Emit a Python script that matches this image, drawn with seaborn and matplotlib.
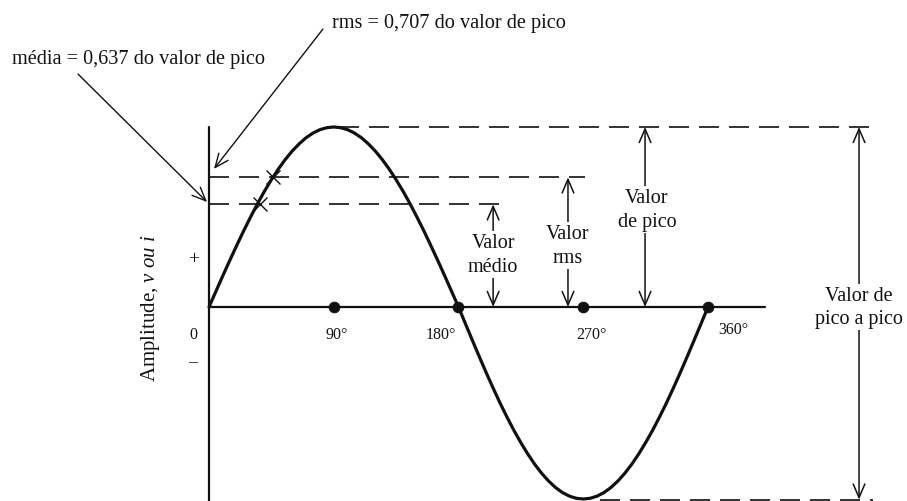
import matplotlib
matplotlib.use("Agg")
import matplotlib.pyplot as plt
import seaborn as sns

# sine wave (degrees, amplitude relative to peak)
angles = list(range(0, 365, 5))
amplitude = [0.000, 0.087, 0.174, 0.259, 0.342, 0.423, 0.500, 0.574, 0.643, 0.707,
             0.766, 0.819, 0.866, 0.906, 0.940, 0.966, 0.985, 0.996, 1.000,
             0.996, 0.985, 0.966, 0.940, 0.906, 0.866, 0.819, 0.766, 0.707,
             0.643, 0.574, 0.500, 0.423, 0.342, 0.259, 0.174, 0.087, 0.000,
             -0.093, -0.185, -0.276, -0.365, -0.451, -0.534, -0.612, -0.686, -0.754,
             -0.817, -0.874, -0.924, -0.967, -1.003, -1.031, -1.051, -1.063, -1.067,
             -1.063, -1.051, -1.031, -1.003, -0.967, -0.924, -0.874, -0.817, -0.754,
             -0.686, -0.612, -0.534, -0.451, -0.365, -0.276, -0.185, -0.093, 0.000]

dot_angles = [90, 180, 270, 360]
dot_labels = ["90°", "180°", "270°", "360°"]
label_angles = [92, 167, 276, 378]

peak_level = 1.00
rms_level = 0.72
mean_level = 0.57
trough_level = -1.07
rms_cross = 46
mean_cross = 37

sns.set_style("white")
plt.rcParams["font.family"] = ["Liberation Serif", "DejaVu Serif"]
plt.rcParams["mathtext.fontset"] = "custom"
plt.rcParams["mathtext.rm"] = "Liberation Serif"
plt.rcParams["mathtext.it"] = "Liberation Serif:italic"

fig = plt.figure(figsize=(9.07, 5.02), dpi=100)
ax = fig.add_axes([0, 0, 1, 1])
ax.set_xlim(-150.8, 503.6)
ax.set_ylim(-1.078, 1.711)
ax.axis("off")

ink = "#111111"

# axes of the diagram
ax.plot([0, 0], [1.0, -1.2], color=ink, lw=1.6, zorder=2)
ax.plot([0, 401], [0, 0], color=ink, lw=1.6, zorder=2)

# the wave
sns.lineplot(x=angles, y=amplitude, ax=ax, color=ink, lw=2.3, sort=False,
             estimator=None, zorder=3, solid_joinstyle="round")
sns.scatterplot(x=dot_angles, y=[0] * len(dot_angles), ax=ax, color=ink, s=60,
                edgecolor=ink, zorder=4)

# dashed reference levels
dash = dict(color=ink, lw=1.2, ls=(0, (12, 6)), zorder=2)
ax.plot([94, 479], [peak_level, peak_level], **dash)
ax.plot([0, 271], [rms_level, rms_level], **dash)
ax.plot([0, 215], [mean_level, mean_level], **dash)
ax.plot([282, 479], [trough_level, trough_level], **dash)

# crossing marks
ax.plot([rms_cross, mean_cross], [rms_level, mean_level], ls="none", marker="x",
        ms=10, mew=1.0, color=ink, zorder=4)

# tick-like labels
for a, lab in zip(label_angles, dot_labels):
    y = -0.12 if lab == "360°" else -0.15
    ax.text(a, y, lab, ha="center", va="center", fontsize=11.5, color=ink)
ax.text(-11.5, -0.15, "0", ha="center", va="center", fontsize=11.5, color=ink)
ax.text(-11.5, 0.27, "+", ha="center", va="center", fontsize=14, color=ink)
ax.text(-11.5, -0.305, "–", ha="center", va="center", fontsize=13, color=ink)
ax.text(-42, 0.0, "Amplitude, $v$ $ou$ $i$", rotation=90, ha="center", va="center",
        fontsize=15, color=ink)

# double arrows with labels
def span(x, y0, y1, label, ty, tx=None):
    ax.annotate("", xy=(x, y0), xytext=(x, y1),
                arrowprops=dict(arrowstyle="<->,head_length=0.7,head_width=0.3",
                                color=ink, lw=1.1, shrinkA=0, shrinkB=0,
                                mutation_scale=14), zorder=3)
    ax.text(x if tx is None else tx, ty, label, ha="center", va="center", fontsize=14.5,
            color=ink, linespacing=1.35, zorder=5,
            bbox=dict(boxstyle="square,pad=0.1", fc="white", ec="none"))

span(205, mean_level, 0, "Valor\nmédio", 0.29)
span(259, rms_level, 0, "Valor\nrms", 0.344)
span(314.6, peak_level, 0, "Valor\nde pico", 0.544, 316)
span(469, peak_level, trough_level, "Valor de\npico a pico", 0.0)

# callouts at the top
arrow = dict(arrowstyle="->,head_length=0.7,head_width=0.3", color=ink, lw=1.0,
             shrinkA=0, shrinkB=0, mutation_scale=14)
ax.text(-51.2, 1.383, "média = 0,637 do valor de pico", ha="center", va="center",
        fontsize=14.6, color=ink)
ax.annotate("", xy=(-1.4, 0.583), xytext=(-94.5, 1.294), arrowprops=arrow)
ax.text(88.7, 1.583, "rms = 0,707 do valor de pico", ha="left", va="center",
        fontsize=14.6, color=ink)
ax.annotate("", xy=(3.6, 0.767), xytext=(82.2, 1.544), arrowprops=arrow)

fig.savefig("out.png", dpi=100)
